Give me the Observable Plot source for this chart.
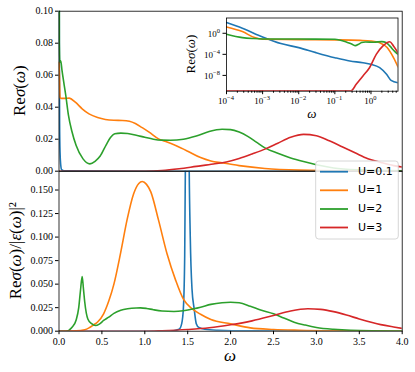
<!DOCTYPE html>
<html><head><meta charset="utf-8">
<script src="https://cdn.jsdelivr.net/npm/d3@7"></script>
<script src="https://cdn.jsdelivr.net/npm/@observablehq/plot@0.6"></script>
<style>
body{margin:0;background:#fff;}
#chart{position:relative;width:415px;height:372px;overflow:hidden;background:#fff;}
#chart svg{position:absolute;left:0;top:0;}
</style></head><body><div id="chart"></div>
<script>
// ---------- categories / styling keys ----------
const series = ["U=0.1", "U=1", "U=2", "U=3"];
const colors = ["#1f77b4", "#ff7f0e", "#2ca02c", "#d62728"];

// ---------- top panel: Re sigma(omega), linear ----------
const wTopA = [0, 0.002, 0.004, 0.007, 0.012, 0.02, 0.03, 0.06, 1.0, 4.0];
const sTopA = [1.0, 0.15, 0.08, 0.03, 0.012, 0.004, 0.001, 0.0002, 0.000001, 0];
const wTopB = [0, 0.005, 0.012, 0.03, 0.07, 0.12, 0.19, 0.27, 0.35, 0.45, 0.54, 0.64, 0.74, 0.82, 0.89, 0.97, 1.05, 1.16, 1.26, 1.36, 1.5, 1.65, 1.77, 1.9, 2.1, 2.4, 2.8, 3.5, 4.0];
const sTopB = [0.068, 0.06, 0.046, 0.0455, 0.0455, 0.0457, 0.0431, 0.039, 0.0358, 0.0335, 0.0323, 0.0318, 0.0317, 0.0312, 0.0298, 0.0272, 0.0244, 0.0202, 0.0182, 0.016, 0.0125, 0.0085, 0.0064, 0.0052, 0.0035, 0.0017, 0.0007, 0.0002, 0.0001];
const wTopC = [0, 0.004, 0.01, 0.02, 0.035, 0.06, 0.08, 0.11, 0.15, 0.2, 0.28, 0.36, 0.42, 0.48, 0.55, 0.6, 0.65, 0.72, 0.8, 0.9, 1.0, 1.1, 1.2, 1.3, 1.45, 1.6, 1.75, 1.9, 2.0, 2.1, 2.2, 2.3, 2.4, 2.55, 2.7, 2.85, 3.0, 3.2, 3.5, 4.0];
const sTopC = [0.5, 0.08, 0.068, 0.069, 0.063, 0.054, 0.047, 0.035, 0.025, 0.016, 0.0077, 0.0046, 0.0062, 0.0095, 0.0165, 0.021, 0.0234, 0.0238, 0.0236, 0.0225, 0.0212, 0.02, 0.0194, 0.0193, 0.02, 0.022, 0.0248, 0.0262, 0.026, 0.0245, 0.0218, 0.0182, 0.0146, 0.0112, 0.0083, 0.006, 0.004, 0.002, 0.0008, 0.0002];
const wTopD = [0, 1.0, 1.2, 1.4, 1.6, 1.8, 1.95, 2.1, 2.25, 2.4, 2.55, 2.7, 2.85, 3.0, 3.15, 3.3, 3.45, 3.6, 3.75, 3.9, 4.0];
const sTopD = [0, 0, 0.0004, 0.0015, 0.003, 0.0045, 0.0058, 0.008, 0.0108, 0.0138, 0.0175, 0.0212, 0.023, 0.0222, 0.019, 0.0153, 0.0115, 0.0078, 0.0055, 0.0035, 0.0026];

// ---------- bottom panel: Re sigma / |eps|^2, linear ----------
const wBotA = [0, 1.3, 1.4, 1.43, 1.45, 1.465, 1.475, 1.49, 1.5, 1.515, 1.53, 1.55, 1.575, 1.6, 1.63, 1.7, 1.85, 2.2, 4.0];
const sBotA = [0, 0, 0.002, 0.008, 0.025, 0.08, 0.2, 0.5, 0.5, 0.2, 0.1, 0.045, 0.024, 0.008, 0.004, 0.002, 0.001, 0.0003, 0];
const wBotB = [0, 0.2, 0.3, 0.35, 0.4, 0.45, 0.52, 0.58, 0.64, 0.72, 0.795, 0.87, 0.93, 0.97, 1.02, 1.07, 1.16, 1.26, 1.36, 1.45, 1.55, 1.65, 1.77, 2.0, 2.23, 2.5, 2.8, 3.3, 4.0];
const sBotB = [0, 0.0003, 0.0015, 0.0035, 0.0065, 0.0098, 0.0185, 0.032, 0.05, 0.084, 0.119, 0.146, 0.157, 0.159, 0.156, 0.148, 0.118, 0.082, 0.054, 0.034, 0.024, 0.018, 0.0124, 0.0078, 0.0035, 0.0018, 0.001, 0.0004, 0.0001];
const wBotC = [0, 0.08, 0.15, 0.2, 0.23, 0.25, 0.27, 0.285, 0.3, 0.336, 0.38, 0.425, 0.47, 0.52, 0.58, 0.64, 0.72, 0.8, 0.9, 0.95, 1.02, 1.1, 1.2, 1.34, 1.45, 1.57, 1.65, 1.77, 1.9, 2.0, 2.1, 2.23, 2.35, 2.5, 2.62, 2.74, 2.87, 3.0, 3.2, 3.4, 4.0];
const sBotC = [0, 0, 0.004, 0.012, 0.025, 0.043, 0.058, 0.045, 0.031, 0.013, 0.008, 0.006, 0.0075, 0.0114, 0.015, 0.019, 0.0222, 0.0238, 0.0247, 0.0248, 0.0242, 0.0228, 0.0215, 0.021, 0.0218, 0.0238, 0.0255, 0.0285, 0.0303, 0.0308, 0.0302, 0.0265, 0.0225, 0.0185, 0.014, 0.0096, 0.0065, 0.004, 0.002, 0.001, 0.0002];
const wBotD = [0, 1.0, 1.2, 1.5, 1.75, 2.0, 2.25, 2.5, 2.7, 2.9, 3.05, 3.2, 3.35, 3.5, 3.65, 3.75, 3.9, 4.0];
const sBotD = [0, 0, 0.0005, 0.0018, 0.0036, 0.0068, 0.011, 0.0167, 0.0215, 0.0238, 0.0232, 0.0208, 0.0172, 0.013, 0.0092, 0.007, 0.0045, 0.003];

// ---------- inset: Re sigma(omega), log-log ----------
const wInA = [1e-4, 2.75e-4, 1e-3, 3.2e-3, 1e-2, 3e-2, 0.1, 0.26, 0.6, 1.0, 1.74, 2.7, 3.6, 5.6];
const sInA = [110, 8.9, 0.2, 0.011, 1.9e-3, 2.1e-4, 2.3e-5, 5.4e-6, 2.6e-6, 1.3e-6, 2.9e-7, 1.6e-8, 1.1e-9, 4e-10];
const wInB = [1e-4, 2.75e-4, 6e-4, 1e-3, 1e-2, 0.1, 0.5, 1.0, 1.7, 2.8, 4.2, 5.6];
const sInB = [16, 2.1, 0.15, 0.072, 0.062, 0.056, 0.045, 0.035, 0.017, 1.9e-3, 2.3e-5, 4e-7];
const wInC = [1e-4, 2.75e-4, 5.5e-4, 1e-3, 1e-2, 0.1, 0.2, 0.3, 0.37, 0.45, 0.55, 0.7, 1.2, 2.0, 2.6, 3.3, 4.6, 5.6];
const sInC = [0.65, 0.15, 0.1, 0.083, 0.08, 0.075, 0.025, 0.008, 0.0045, 0.008, 0.017, 0.022, 0.02, 0.026, 0.018, 0.004, 3.2e-4, 1e-4];
const wInD = [1e-4, 0.28, 0.39, 0.6, 0.92, 1.4, 2.15, 3.3, 4.2, 5.6];
const sInD = [1.2e-11, 1.2e-11, 2e-10, 8e-9, 3.2e-7, 1e-4, 4e-3, 0.025, 4e-3, 2e-4];

// ---------- tick values ----------
const xTicks = [0, 0.5, 1.0, 1.5, 2.0, 2.5, 3.0, 3.5, 4.0];
const yTicksTop = [0, 0.02, 0.04, 0.06, 0.08, 0.10];
const yTicksBot = [0, 0.025, 0.05, 0.075, 0.1, 0.125, 0.15];
const inXTicks = [1e-4, 1e-3, 1e-2, 1e-1, 1e0];
const inXMinor = [2e-4,3e-4,4e-4,5e-4,6e-4,7e-4,8e-4,9e-4,2e-3,3e-3,4e-3,5e-3,6e-3,7e-3,8e-3,9e-3,2e-2,3e-2,4e-2,5e-2,6e-2,7e-2,8e-2,9e-2,0.2,0.3,0.4,0.5,0.6,0.7,0.8,0.9,2,3,4,5];
const inYTicks = [1e0, 1e-4, 1e-8];

function rows(ws, ss, U) { return ws.map((w, i) => ({w, v: ss[i], U})); }
const topData = [...rows(wTopA, sTopA, series[0]), ...rows(wTopB, sTopB, series[1]), ...rows(wTopC, sTopC, series[2]), ...rows(wTopD, sTopD, series[3])];
const botData = [...rows(wBotA, sBotA, series[0]), ...rows(wBotB, sBotB, series[1]), ...rows(wBotC, sBotC, series[2]), ...rows(wBotD, sBotD, series[3])];
const inData = [...rows(wInA, sInA, series[0]), ...rows(wInB, sInB, series[1]), ...rows(wInC, sInC, series[2]), ...rows(wInD, sInD, series[3])];

const W = 415, H = 372;
const fL = 58.5, fR = 401.7, fT = 10.7, fM = 170.7, fB = 330.7;
const iL = 226, iR = 397.5, iT = 17.5, iB = 90.7;
const serif = "'Liberation Serif', 'DejaVu Serif', serif";
const baseStyle = {fontFamily: serif, fontSize: "10px", background: "transparent", color: "#000"};
const colorScale = {domain: series, range: colors};
const lineOpts = {x: "w", y: "v", z: "U", stroke: "U", strokeWidth: 1.6, clip: true, curve: "monotone-x"};

const topPlot = Plot.plot({
  width: W, height: H, marginLeft: fL, marginRight: W - fR, marginTop: fT, marginBottom: H - fM,
  style: baseStyle,
  x: {domain: [0, 4], axis: null},
  y: {domain: [0, 0.1]},
  color: colorScale,
  marks: [
    Plot.axisY({ticks: yTicksTop, tickFormat: d => d.toFixed(2), tickSize: 3.5, tickPadding: 2.5, label: null}),
    Plot.line(topData, lineOpts),
    Plot.frame({stroke: "#000", strokeWidth: 0.8})
  ]
});

const botPlot = Plot.plot({
  width: W, height: H, marginLeft: fL, marginRight: W - fR, marginTop: fM, marginBottom: H - fB,
  style: baseStyle,
  x: {domain: [0, 4]},
  y: {domain: [0, 0.17]},
  color: colorScale,
  marks: [
    Plot.axisY({ticks: yTicksBot, tickFormat: d => d.toFixed(3), tickSize: 3.5, tickPadding: 2.5, label: null}),
    Plot.axisX({ticks: xTicks, tickFormat: d => d.toFixed(1), tickSize: 3.5, tickPadding: 3, label: null}),
    Plot.line(botData, lineOpts),
    Plot.frame({stroke: "#000", strokeWidth: 0.8})
  ]
});

const inPlot = Plot.plot({
  width: W, height: H, marginLeft: iL, marginRight: W - iR, marginTop: iT, marginBottom: H - iB,
  style: {...baseStyle, fontSize: "9px"},
  x: {type: "log", domain: [1e-4, 5.6]},
  y: {type: "log", domain: [1e-11, 794]},
  color: colorScale,
  marks: [
    Plot.frame({fill: "#fff", stroke: "none"}),
    Plot.axisX({ticks: inXMinor, tickFormat: () => "", tickSize: 2, label: null}),
    Plot.axisX({ticks: inXTicks, tickFormat: () => "", tickSize: 3.5, label: null}),
    Plot.axisY({ticks: inYTicks, tickFormat: () => "", tickSize: 3.5, label: null}),
    Plot.line(inData, lineOpts),
    Plot.frame({stroke: "#000", strokeWidth: 0.8})
  ]
});

const chart = document.getElementById("chart");
chart.append(topPlot, botPlot, inPlot);

// ---------- overlay: axis titles, inset tick labels and legend ----------
const ov = d3.select(chart).append("svg").attr("width", W).attr("height", H);

function mathText(parts, x, y, size, rotate) {
  const t = ov.append("text")
    .attr("transform", `translate(${x},${y})` + (rotate ? " rotate(-90)" : ""))
    .attr("text-anchor", "middle").attr("dominant-baseline", "middle")
    .style("font-family", serif).style("font-size", size + "px");
  for (const [s, it] of parts) {
    t.append("tspan").text(s).style("font-style", it ? "italic" : "normal");
  }
}
const sigmaLabel = [["Re", false], ["\u03C3", true], ["(", false], ["\u03C9", true], [")", false]];
mathText(sigmaLabel, 21, (fT + fM) / 2, 17, true);
mathText([...sigmaLabel, ["/|", false], ["\u03B5", true], ["(", false], ["\u03C9", true], [")|\u00B2", false]], 17, (fM + fB) / 2, 17, true);
mathText([["\u03C9", true]], (fL + fR) / 2, 357, 17, false);
mathText(sigmaLabel, 192, (iT + iB) / 2, 13, true);
mathText([["\u03C9", true]], (iL + iR) / 2, 115, 13, false);

// inset power-of-ten tick labels, placed with the inset's own scales
const sx = inPlot.scale("x"), sy = inPlot.scale("y");
function powLabel(x, y, v, anchor) {
  const e = Math.round(Math.log10(v));
  const t = ov.append("text").attr("x", x).attr("y", y).attr("text-anchor", anchor)
    .style("font-family", serif).style("font-size", "9px");
  t.append("tspan").text("10");
  t.append("tspan").attr("dy", -4).style("font-size", "6.5px").text(String(e).replace("-", "\u2212"));
}
inXTicks.forEach(v => powLabel(sx.apply(v), iB + 13.5, v, "middle"));
inYTicks.forEach(v => powLabel(iL - 6, sy.apply(v) + 4, v, "end"));

// legend
const lg = ov.append("g");
lg.append("rect").attr("x", 315.7).attr("y", 161).attr("width", 82.6).attr("height", 78)
  .attr("rx", 3).attr("fill", "#fff").attr("fill-opacity", 0.85).attr("stroke", "#ccc").attr("stroke-width", 0.8);
const legendY = [171.7, 190.3, 209, 227.5];
series.forEach((s, i) => {
  lg.append("line").attr("x1", 320).attr("x2", 348).attr("y1", legendY[i]).attr("y2", legendY[i])
    .attr("stroke", colors[i]).attr("stroke-width", 1.8);
  lg.append("text").attr("x", 358).attr("y", legendY[i]).attr("dominant-baseline", "middle")
    .style("font-family", "'DejaVu Sans', sans-serif").style("font-size", "11px").text(s);
});
</script></body></html>
